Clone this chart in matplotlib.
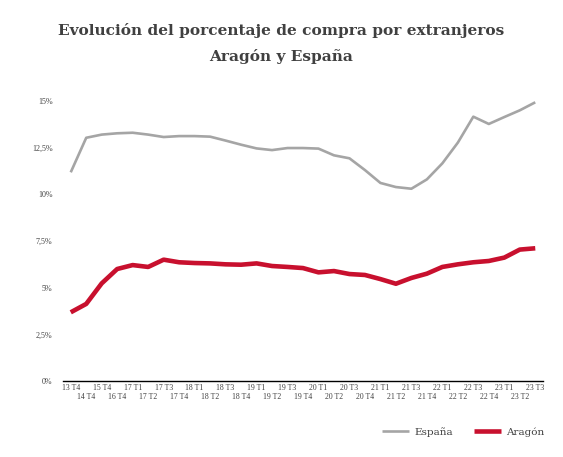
import matplotlib
matplotlib.use("Agg")
import matplotlib.pyplot as plt
from matplotlib.ticker import FuncFormatter

# trimestres
periodos = ["13 T4", "14 T4", "15 T4", "16 T4", "17 T1", "17 T2", "17 T3", "17 T4",
            "18 T1", "18 T2", "18 T3", "18 T4", "19 T1", "19 T2", "19 T3", "19 T4",
            "20 T1", "20 T2", "20 T3", "20 T4", "21 T1", "21 T2", "21 T3", "21 T4",
            "22 T1", "22 T2", "22 T3", "22 T4", "23 T1", "23 T2", "23 T3"]

espana = [11.18, 13.03, 13.2, 13.27, 13.3, 13.2, 13.07, 13.12, 13.12, 13.09, 12.88,
          12.66, 12.46, 12.37, 12.48, 12.48, 12.45, 12.09, 11.93, 11.3, 10.61, 10.39,
          10.3, 10.8, 11.66, 12.77, 14.16, 13.77, 14.14, 14.5, 14.93]

aragon = [3.68, 4.13, 5.23, 6.0, 6.21, 6.11, 6.5, 6.36, 6.32, 6.3, 6.25, 6.23, 6.3,
          6.16, 6.11, 6.05, 5.82, 5.89, 5.73, 5.68, 5.46, 5.21, 5.52, 5.75, 6.11, 6.25,
          6.36, 6.43, 6.61, 7.04, 7.11]

y_ticks = [0, 2.5, 5, 7.5, 10, 12.5, 15]

serif = "Liberation Serif"
titulo_font = "DejaVu Serif"
txt = "#404040"

fig = plt.figure(figsize=(5.63, 4.57), dpi=100)
ax = fig.add_axes([63 / 563, 1 - 381 / 457, 480 / 563, 280 / 457])

x = list(range(len(periodos)))
ax.plot(x, espana, color="#A5A5A5", lw=1.9, label="España", solid_capstyle="butt")
ax.plot(x, aragon, color="#C8102E", lw=3.3, label="Aragón", solid_capstyle="butt")

ax.set_xlim(-0.5, len(periodos) - 0.5)
ax.set_ylim(0, 15)
ax.set_yticks(y_ticks)
ax.yaxis.set_major_formatter(FuncFormatter(lambda v, p: f"{v:g}%".replace(".", ",")))
ax.tick_params(axis="y", length=0, pad=7.5, labelsize=5.8, labelcolor=txt)

# etiquetas alternadas en dos filas
ax.set_xticks(x[::2])
ax.set_xticklabels(periodos[::2])
ax.set_xticks(x[1::2], minor=True)
ax.set_xticklabels(periodos[1::2], minor=True)
ax.tick_params(axis="x", which="major", length=0, pad=2.5, labelsize=5.6, labelcolor=txt)
ax.tick_params(axis="x", which="minor", length=0, pad=8.8, labelsize=5.6, labelcolor=txt)
for lab in (ax.get_xticklabels() + ax.get_xticklabels(minor=True)
            + ax.get_yticklabels()):
    lab.set_fontfamily(serif)

for s in ["top", "right", "left"]:
    ax.spines[s].set_visible(False)
ax.spines["bottom"].set_color("#000000")
ax.spines["bottom"].set_linewidth(1.0)

fig.text(0.5, 1 - 31 / 457, "Evolución del porcentaje de compra por extranjeros",
         ha="center", va="center", fontsize=11.1, fontweight="bold", color=txt,
         family=titulo_font)
fig.text(0.5, 1 - 57 / 457, "Aragón y España", ha="center", va="center",
         fontsize=11.1, fontweight="bold", color=txt, family=titulo_font)

leg = fig.legend(loc="center", bbox_to_anchor=(463 / 563, 1 - 432 / 457), ncol=2,
                 frameon=False, handlelength=2.6, handletextpad=0.5,
                 columnspacing=2.0, prop={"family": titulo_font, "size": 7.5})
for t in leg.get_texts():
    t.set_color(txt)

fig.savefig("out.png", dpi=100)
